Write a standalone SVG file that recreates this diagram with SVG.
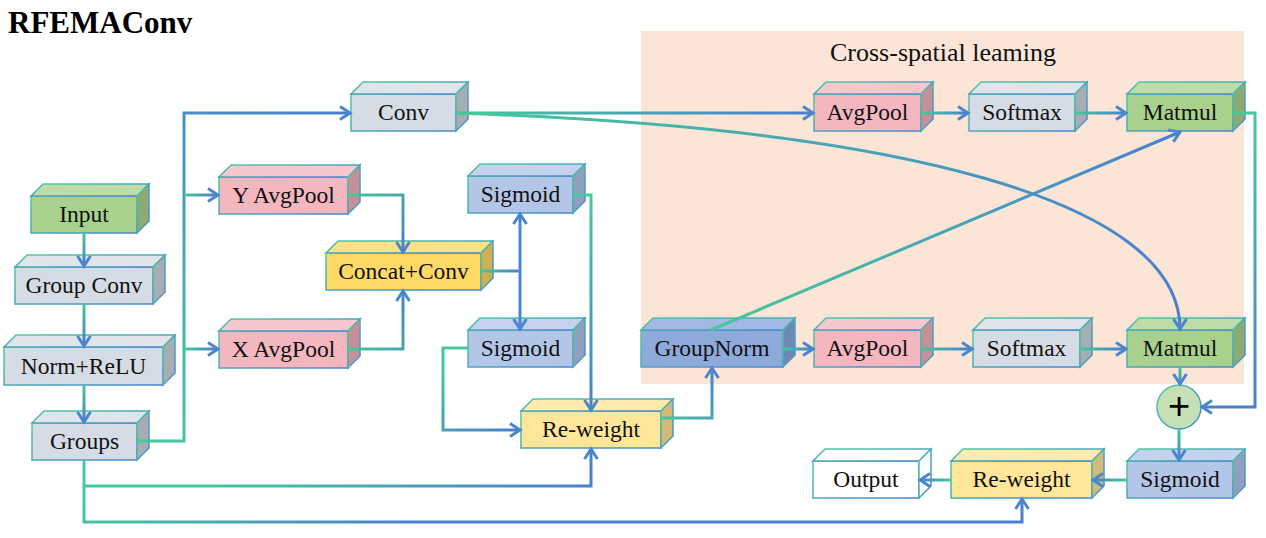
<svg xmlns="http://www.w3.org/2000/svg" xmlns:xlink="http://www.w3.org/1999/xlink" width="1266" height="538" viewBox="0 0 1266 538">
<style>
.nd rect,.nd polygon{stroke:url(#ns);stroke-width:1.5}
.nd text{font-family:"Liberation Serif","Times New Roman",serif;font-size:23.5px;text-anchor:middle;fill:#111}
.green rect{fill:#a9d18e}.green .t{fill:#bddca7}.green .r{fill:#8cab73}
.gray rect{fill:#d6dce5}.gray .t{fill:#e0e5ec}.gray .r{fill:#a8adb4}
.pink rect{fill:#f4b7bf}.pink .t{fill:#f6c7cd}.pink .r{fill:#c79098}
.yc rect{fill:#ffd966}.yc .t{fill:#ffe185}.yc .r{fill:#d0af50}
.yr rect{fill:#ffe699}.yr .t{fill:#ffebab}.yr .r{fill:#d2bb78}
.bs rect{fill:#b4c6e7}.bs .t{fill:#c4d2ee}.bs .r{fill:#8f9fbd}
.bg rect{fill:#8eaadb}.bg .t{fill:#a3b9e3}.bg .r{fill:#6f89b7}
.wh rect,.wh polygon{fill:#ffffff}
#connectors path{fill:none;stroke-width:3;stroke-linejoin:miter}
</style>
<defs>
<linearGradient id="ns" x1="0" y1="0" x2="1" y2="1"><stop offset="0" stop-color="#4fcba0"/><stop offset="1" stop-color="#4a86d0"/></linearGradient>
<linearGradient id="gb"><stop offset="0" stop-color="#45c99a"/><stop offset="1" stop-color="#4a7ed1"/></linearGradient>
<linearGradient id="c1" href="#gb" xlink:href="#gb" gradientUnits="userSpaceOnUse" x1="84" y1="233" x2="84" y2="266"/>
<linearGradient id="c2" href="#gb" xlink:href="#gb" gradientUnits="userSpaceOnUse" x1="84" y1="304" x2="84" y2="346"/>
<linearGradient id="c3" href="#gb" xlink:href="#gb" gradientUnits="userSpaceOnUse" x1="84" y1="385" x2="84" y2="422"/>
<linearGradient id="c4" href="#gb" xlink:href="#gb" gradientUnits="userSpaceOnUse" x1="137" y1="441" x2="350" y2="113"/>
<linearGradient id="c5" href="#gb" xlink:href="#gb" gradientUnits="userSpaceOnUse" x1="184" y1="0" x2="218" y2="0"/>
<linearGradient id="c6" href="#gb" xlink:href="#gb" gradientUnits="userSpaceOnUse" x1="348" y1="195" x2="403" y2="252"/>
<linearGradient id="c7" href="#gb" xlink:href="#gb" gradientUnits="userSpaceOnUse" x1="348" y1="349" x2="403" y2="291"/>
<linearGradient id="c8" href="#gb" xlink:href="#gb" gradientUnits="userSpaceOnUse" x1="481" y1="0" x2="520" y2="0"/>
<linearGradient id="c9" href="#gb" xlink:href="#gb" gradientUnits="userSpaceOnUse" x1="573" y1="195" x2="591" y2="410"/>
<linearGradient id="c10" href="#gb" xlink:href="#gb" gradientUnits="userSpaceOnUse" x1="468" y1="348" x2="520" y2="430"/>
<linearGradient id="c11" href="#gb" xlink:href="#gb" gradientUnits="userSpaceOnUse" x1="661" y1="418" x2="712" y2="368"/>
<linearGradient id="c12" href="#gb" xlink:href="#gb" gradientUnits="userSpaceOnUse" x1="200" y1="486" x2="591" y2="449"/>
<linearGradient id="c13" href="#gb" xlink:href="#gb" gradientUnits="userSpaceOnUse" x1="84" y1="460" x2="420" y2="522"/>
<linearGradient id="c14" href="#gb" xlink:href="#gb" gradientUnits="userSpaceOnUse" x1="456" y1="0" x2="813" y2="0"/>
<linearGradient id="c15" href="#gb" xlink:href="#gb" gradientUnits="userSpaceOnUse" x1="456" y1="113" x2="1180" y2="329"/>
<linearGradient id="c16" href="#gb" xlink:href="#gb" gradientUnits="userSpaceOnUse" x1="711" y1="330" x2="1180" y2="132"/>
<linearGradient id="c17" href="#gb" xlink:href="#gb" gradientUnits="userSpaceOnUse" x1="921" y1="0" x2="968" y2="0"/>
<linearGradient id="c18" href="#gb" xlink:href="#gb" gradientUnits="userSpaceOnUse" x1="1075" y1="0" x2="1126" y2="0"/>
<linearGradient id="c19" href="#gb" xlink:href="#gb" gradientUnits="userSpaceOnUse" x1="783" y1="0" x2="813" y2="0"/>
<linearGradient id="c20" href="#gb" xlink:href="#gb" gradientUnits="userSpaceOnUse" x1="921" y1="0" x2="972" y2="0"/>
<linearGradient id="c21" href="#gb" xlink:href="#gb" gradientUnits="userSpaceOnUse" x1="1080" y1="0" x2="1126" y2="0"/>
<linearGradient id="c22" href="#gb" xlink:href="#gb" gradientUnits="userSpaceOnUse" x1="0" y1="367" x2="0" y2="384"/>
<linearGradient id="c23" href="#gb" xlink:href="#gb" gradientUnits="userSpaceOnUse" x1="1255" y1="113" x2="1202" y2="407"/>
<linearGradient id="c24" href="#gb" xlink:href="#gb" gradientUnits="userSpaceOnUse" x1="0" y1="429" x2="0" y2="460"/>
<linearGradient id="c25" href="#gb" xlink:href="#gb" gradientUnits="userSpaceOnUse" x1="1127" y1="0" x2="1093" y2="0"/>
<linearGradient id="c26" href="#gb" xlink:href="#gb" gradientUnits="userSpaceOnUse" x1="951" y1="0" x2="920" y2="0"/>
<marker id="ar" markerUnits="userSpaceOnUse" markerWidth="16" markerHeight="18" refX="12" refY="8" orient="auto" overflow="visible">
<path d="M2,1.5 L12,8 L2,14.5" fill="none" stroke="#4a86cc" stroke-width="3"/>
</marker>
</defs>
<rect x="0" y="0" width="1266" height="538" fill="#ffffff"/>
<text x="8" y="33" font-family="Liberation Serif,Times New Roman,serif" font-size="31" font-weight="bold" fill="#000">RFEMAConv</text>
<g id="cross-spatial">
<rect x="641" y="31" width="603" height="353" fill="#fbe5d6"/>
<text x="943" y="61" font-family="Liberation Serif,Times New Roman,serif" font-size="26" text-anchor="middle" fill="#111">Cross-spatial leaming</text>
</g>
<g id="input" class="nd green"><rect x="31" y="196" width="106" height="37"/><polygon class="t" points="31,196 43,184 149,184 137,196"/><polygon class="r" points="137,196 149,184 149,221 137,233"/><text x="84" y="222">Input</text></g>
<g id="groupconv" class="nd gray"><rect x="15" y="267" width="138" height="37"/><polygon class="t" points="15,267 27,255 165,255 153,267"/><polygon class="r" points="153,267 165,255 165,292 153,304"/><text x="84" y="293">Group Conv</text></g>
<g id="normrelu" class="nd gray"><rect x="4" y="347" width="159" height="38"/><polygon class="t" points="4,347 16,335 175,335 163,347"/><polygon class="r" points="163,347 175,335 175,373 163,385"/><text x="83.5" y="374">Norm+ReLU</text></g>
<g id="groups" class="nd gray"><rect x="32" y="423" width="105" height="37"/><polygon class="t" points="32,423 44,411 149,411 137,423"/><polygon class="r" points="137,423 149,411 149,448 137,460"/><text x="84.5" y="449">Groups</text></g>
<g id="conv" class="nd gray"><rect x="351" y="94" width="105" height="37"/><polygon class="t" points="351,94 363,82 468,82 456,94"/><polygon class="r" points="456,94 468,82 468,119 456,131"/><text x="403.5" y="120">Conv</text></g>
<g id="yavgpool" class="nd pink"><rect x="219" y="177" width="129" height="37"/><polygon class="t" points="219,177 231,165 360,165 348,177"/><polygon class="r" points="348,177 360,165 360,202 348,214"/><text x="283.5" y="203">Y AvgPool</text></g>
<g id="xavgpool" class="nd pink"><rect x="219" y="331" width="129" height="37"/><polygon class="t" points="219,331 231,319 360,319 348,331"/><polygon class="r" points="348,331 360,319 360,356 348,368"/><text x="283.5" y="357">X AvgPool</text></g>
<g id="concatconv" class="nd yc"><rect x="326" y="253" width="155" height="37"/><polygon class="t" points="326,253 338,241 493,241 481,253"/><polygon class="r" points="481,253 493,241 493,278 481,290"/><text x="403.5" y="279">Concat+Conv</text></g>
<g id="sigmoid1" class="nd bs"><rect x="468" y="176" width="105" height="37"/><polygon class="t" points="468,176 480,164 585,164 573,176"/><polygon class="r" points="573,176 585,164 585,201 573,213"/><text x="520.5" y="202">Sigmoid</text></g>
<g id="sigmoid2" class="nd bs"><rect x="468" y="330" width="105" height="37"/><polygon class="t" points="468,330 480,318 585,318 573,330"/><polygon class="r" points="573,330 585,318 585,355 573,367"/><text x="520.5" y="356">Sigmoid</text></g>
<g id="reweight1" class="nd yr"><rect x="521" y="411" width="140" height="37"/><polygon class="t" points="521,411 533,399 673,399 661,411"/><polygon class="r" points="661,411 673,399 673,436 661,448"/><text x="591" y="437">Re-weight</text></g>
<g id="groupnorm" class="nd bg"><rect x="641" y="330" width="142" height="37"/><polygon class="t" points="641,330 653,318 795,318 783,330"/><polygon class="r" points="783,330 795,318 795,355 783,367"/><text x="712" y="356">GroupNorm</text></g>
<g id="avgpool-bottom" class="nd pink"><rect x="814" y="330" width="107" height="37"/><polygon class="t" points="814,330 826,318 933,318 921,330"/><polygon class="r" points="921,330 933,318 933,355 921,367"/><text x="867.5" y="356">AvgPool</text></g>
<g id="softmax-bottom" class="nd gray"><rect x="973" y="330" width="107" height="37"/><polygon class="t" points="973,330 985,318 1092,318 1080,330"/><polygon class="r" points="1080,330 1092,318 1092,355 1080,367"/><text x="1026.5" y="356">Softmax</text></g>
<g id="matmul-bottom" class="nd green"><rect x="1127" y="330" width="106" height="37"/><polygon class="t" points="1127,330 1139,318 1245,318 1233,330"/><polygon class="r" points="1233,330 1245,318 1245,355 1233,367"/><text x="1180" y="356">Matmul</text></g>
<g id="avgpool-top" class="nd pink"><rect x="814" y="94" width="107" height="37"/><polygon class="t" points="814,94 826,82 933,82 921,94"/><polygon class="r" points="921,94 933,82 933,119 921,131"/><text x="867.5" y="120">AvgPool</text></g>
<g id="softmax-top" class="nd gray"><rect x="969" y="94" width="106" height="37"/><polygon class="t" points="969,94 981,82 1087,82 1075,94"/><polygon class="r" points="1075,94 1087,82 1087,119 1075,131"/><text x="1022" y="120">Softmax</text></g>
<g id="matmul-top" class="nd green"><rect x="1127" y="94" width="106" height="37"/><polygon class="t" points="1127,94 1139,82 1245,82 1233,94"/><polygon class="r" points="1233,94 1245,82 1245,119 1233,131"/><text x="1180" y="120">Matmul</text></g>
<g id="add"><circle cx="1179" cy="407" r="22" fill="#c5e0b4" stroke="url(#ns)" stroke-width="1.5"/><text x="1179" y="419" font-family="Liberation Sans,Arial,sans-serif" font-size="38" text-anchor="middle" fill="#000">+</text></g>
<g id="sigmoid3" class="nd bs"><rect x="1127" y="461" width="106" height="37"/><polygon class="t" points="1127,461 1139,449 1245,449 1233,461"/><polygon class="r" points="1233,461 1245,449 1245,486 1233,498"/><text x="1180" y="487">Sigmoid</text></g>
<g id="reweight2" class="nd yr"><rect x="951" y="461" width="141" height="37"/><polygon class="t" points="951,461 963,449 1104,449 1092,461"/><polygon class="r" points="1092,461 1104,449 1104,486 1092,498"/><text x="1021.5" y="487">Re-weight</text></g>
<g id="output" class="nd wh"><rect x="813" y="461" width="106" height="37"/><polygon class="t" points="813,461 825,449 931,449 919,461"/><polygon class="r" points="919,461 931,449 931,486 919,498"/><text x="866" y="487">Output</text></g>
<g id="connectors">
<path d="M84,233 V266" stroke="url(#c1)" marker-end="url(#ar)"/>
<path d="M84,304 V346" stroke="url(#c2)" marker-end="url(#ar)"/>
<path d="M84,385 V422" stroke="url(#c3)" marker-end="url(#ar)"/>
<path d="M137,441 H184 V113 H350" stroke="url(#c4)" marker-end="url(#ar)"/>
<path d="M184,195 H218" stroke="url(#c5)" marker-end="url(#ar)"/>
<path d="M184,349 H218" stroke="url(#c5)" marker-end="url(#ar)"/>
<path d="M348,195 H403 V252" stroke="url(#c6)" marker-end="url(#ar)"/>
<path d="M348,349 H403 V291" stroke="url(#c7)" marker-end="url(#ar)"/>
<path d="M481,271 H521" stroke="url(#c8)"/>
<path d="M520,271 V214" stroke="#4a86cc" marker-end="url(#ar)"/>
<path d="M520,271 V329" stroke="#4a86cc" marker-end="url(#ar)"/>
<path d="M573,195 H591 V410" stroke="url(#c9)" marker-end="url(#ar)"/>
<path d="M468,348 H443 V430 H520" stroke="url(#c10)" marker-end="url(#ar)"/>
<path d="M661,418 H712 V368" stroke="url(#c11)" marker-end="url(#ar)"/>
<path d="M84,460 V486 H591 V449" stroke="url(#c12)" marker-end="url(#ar)"/>
<path d="M84,486 V522 H1022 V499" stroke="url(#c13)" marker-end="url(#ar)"/>
<path d="M456,113 H813" stroke="url(#c14)" marker-end="url(#ar)"/>
<path d="M456,113 C900,128 1180,200 1180,329" stroke="url(#c15)" marker-end="url(#ar)"/>
<path d="M711,330 L1180,132" stroke="url(#c16)" marker-end="url(#ar)"/>
<path d="M921,113 H968" stroke="url(#c17)" marker-end="url(#ar)"/>
<path d="M1075,113 H1126" stroke="url(#c18)" marker-end="url(#ar)"/>
<path d="M783,349 H813" stroke="url(#c19)" marker-end="url(#ar)"/>
<path d="M921,349 H972" stroke="url(#c20)" marker-end="url(#ar)"/>
<path d="M1080,349 H1126" stroke="url(#c21)" marker-end="url(#ar)"/>
<path d="M1180,367 V384" stroke="url(#c22)" marker-end="url(#ar)"/>
<path d="M1233,113 H1255 V407 H1202" stroke="url(#c23)" marker-end="url(#ar)"/>
<path d="M1179,429 V460" stroke="url(#c24)" marker-end="url(#ar)"/>
<path d="M1127,480 H1093" stroke="url(#c25)" marker-end="url(#ar)"/>
<path d="M951,480 H920" stroke="url(#c26)" marker-end="url(#ar)"/>
</g>
</svg>
